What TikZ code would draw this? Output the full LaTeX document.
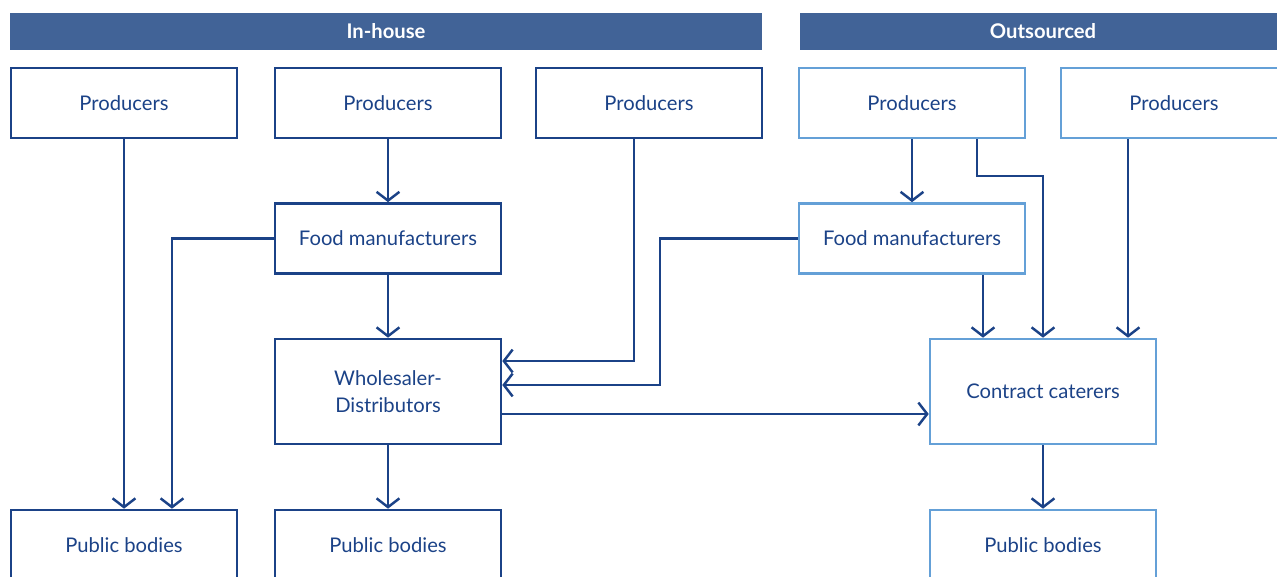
\documentclass[tikz,border=0pt]{standalone}
\usepackage{fontspec}
\setmainfont{Lato}
\usetikzlibrary{arrows.meta}
\definecolor{chartblue}{RGB}{27,66,135}
\definecolor{bannerblue}{RGB}{65,99,151}
\definecolor{lightblue}{RGB}{100,160,215}

\begin{document}
\begin{tikzpicture}[x=0.02cm,y=-0.02cm,
    every node/.style={font=\fontsize{11.5}{15.5}\selectfont,text=chartblue,align=center},
    box/.style={draw=chartblue,line width=1.5pt,minimum width=4.52cm,minimum height=1.4cm},
    outbox/.style={box,draw=lightblue},
    banner/.style={fill=bannerblue,text=white,font=\fontsize{11.5}{13}\selectfont\bfseries,minimum height=0.74cm},
    link/.style={draw=chartblue,line width=1.4pt,-{Straight Barb[length=5pt,width=13pt,line width=1.4pt]}}]
    \useasboundingbox(0,0)rectangle(1277,577);
    % headings
    \node[banner,minimum width=15.04cm](inhouse)at(386,31.5){In-house};
    \node[banner,minimum width=9.72cm](outsourced)at(1043,31.5){Outsourced};
    % in-house chain
    \node[box](prodA)at(124,103){Producers};
    \node[box](prodB)at(388,103){Producers};
    \node[box](prodC)at(649,103){Producers};
    \node[box](foodIn)at(388,238.5){Food manufacturers};
    \node[box,minimum height=2.1cm](wholesale)at(388,391.5){Wholesaler-\\Distributors};
    \node[box](pubA)at(124,545){Public bodies};
    \node[box](pubB)at(388,545){Public bodies};
    % outsourced chain
    \node[outbox](prodD)at(912,103){Producers};
    \node[outbox](prodE)at(1174,103){Producers};
    \node[outbox](foodOut)at(912,238.5){Food manufacturers};
    \node[outbox,minimum height=2.1cm](caterers)at(1043,391.5){Contract caterers};
    \node[outbox](pubC)at(1043,545){Public bodies};
    % flows
    \draw[link](prodA.south)--(pubA.north);
    \draw[link](prodB.south)--(foodIn.north);
    \draw[link](foodIn.west)-|([xshift=0.96cm]pubA.north);
    \draw[link](foodIn.south)--(wholesale.north);
    \draw[link]([xshift=-0.3cm]prodC.south)|-([yshift=0.61cm]wholesale.east);
    \draw[link](foodOut.west)-|(660,300)|-([yshift=0.13cm]wholesale.east);
    \draw[link]([yshift=-0.45cm]wholesale.east)--([yshift=-0.45cm]caterers.west);
    \draw[link](wholesale.south)--(pubB.north);
    \draw[link](prodD.south)--(foodOut.north);
    \draw[link]([xshift=1.3cm]prodD.south)|-(1000,176)-|(caterers.north);
    \draw[link]([xshift=1.42cm]foodOut.south)--([xshift=1.42cm]foodOut.south|-caterers.north);
    \draw[link]([xshift=-0.92cm]prodE.south)--([xshift=-0.92cm]prodE.south|-caterers.north);
    \draw[link](caterers.south)--(pubC.north);
  \end{tikzpicture}
\end{document}
